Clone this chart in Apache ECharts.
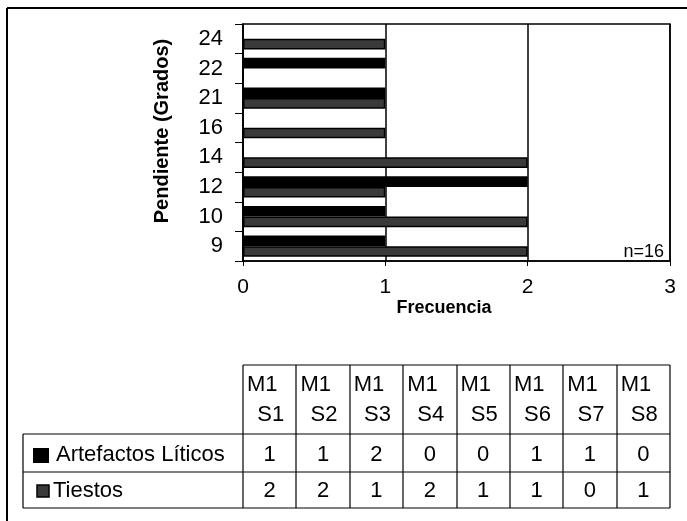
<!DOCTYPE html>
<html>
<head>
<meta charset="utf-8">
<script src="https://cdn.jsdelivr.net/npm/echarts@6/dist/echarts.min.js"></script>
<style>
  html, body { margin: 0; padding: 0; background: #fff; }
  #chart { width: 687px; height: 521px; }
</style>
</head>
<body>
<div id="chart"></div>
<script>
// Slope classes (degrees), bottom to top
const slopes = ['9', '10', '12', '14', '16', '21', '22', '24'];
// Sample units shown in the data table
const units = ['M1 S1', 'M1 S2', 'M1 S3', 'M1 S4', 'M1 S5', 'M1 S6', 'M1 S7', 'M1 S8'];
// Frequencies per series
const liticos = [1, 1, 2, 0, 0, 1, 1, 0];
const tiestos = [2, 2, 1, 2, 1, 1, 0, 1];
const seriesNames = ['Artefactos Líticos', 'Tiestos'];
const xTicks = [0, 1, 2, 3];

const FONT = "'Liberation Sans', Arial, sans-serif";
const TIESTO_FILL = '#3a3a3a';

const chart = echarts.init(document.getElementById('chart'), null, { renderer: 'canvas' });

// Data table geometry
const tbl = {
  labelLeft: 23, colLeft: 243, colRight: 670,
  headTop: 365, row1Top: 434, row2Top: 472, bottom: 508
};
const colW = (tbl.colRight - tbl.colLeft) / units.length;

const graphics = [];
const line = (x1, y1, x2, y2, w) => graphics.push({
  type: 'line', silent: true,
  shape: { x1, y1, x2, y2 },
  style: { stroke: '#000', lineWidth: w || 1.2 }
});
const text = (t, x, y, opts) => graphics.push(Object.assign({
  type: 'text', silent: true, x, y,
  style: Object.assign({
    text: t, fill: '#000', font: '22px ' + FONT,
    textAlign: 'center', textVerticalAlign: 'middle'
  }, (opts && opts.style) || {})
}, (opts && opts.el) || {}));

// Outer frame
line(7, 8, 687, 8, 2);
line(7, 8, 7, 521, 2);

// Table grid
line(tbl.colLeft, tbl.headTop, tbl.colRight, tbl.headTop);
line(tbl.labelLeft, tbl.row1Top, tbl.colRight, tbl.row1Top);
line(tbl.labelLeft, tbl.row2Top, tbl.colRight, tbl.row2Top);
line(tbl.labelLeft, tbl.bottom, tbl.colRight, tbl.bottom);
line(tbl.labelLeft, tbl.row1Top, tbl.labelLeft, tbl.bottom);
for (let i = 0; i <= units.length; i++) {
  const x = Math.round(tbl.colLeft + i * colW);
  line(x, tbl.headTop, x, tbl.bottom);
}

// Header cells and values
units.forEach((u, i) => {
  const [a, b] = u.split(' ');
  const x0 = tbl.colLeft + i * colW;
  text(a, x0 + 4, 385, { style: { textAlign: 'left' } });
  text(b, x0 + colW / 2 + 1, 415);
  text(String(liticos[i]), x0 + colW / 2, 455);
  text(String(tiestos[i]), x0 + colW / 2, 491);
});

// Legend keys inside the table
graphics.push({ type: 'rect', silent: true, shape: { x: 33, y: 448, width: 16, height: 15 }, style: { fill: '#000' } });
graphics.push({ type: 'rect', silent: true, shape: { x: 37, y: 485, width: 12, height: 12 }, style: { fill: TIESTO_FILL, stroke: '#000', lineWidth: 1.5 } });
text(seriesNames[0], 56, 455, { style: { textAlign: 'left' } });
text(seriesNames[1], 53, 491, { style: { textAlign: 'left' } });

// Axis titles and sample size
text('Pendiente (Grados)', 162, 131, {
  style: { font: 'bold 20px ' + FONT },
  el: { rotation: Math.PI / 2 }
});
text('Frecuencia', 444, 308, { style: { font: 'bold 18px ' + FONT } });
text('n=16', 664, 252, { style: { font: '18px ' + FONT, textAlign: 'right' } });

chart.setOption({
  animation: false,
  backgroundColor: '#fff',
  grid: {
    left: 243, right: 17, top: 24, bottom: 260,
    show: true, borderColor: '#000', borderWidth: 1.5, backgroundColor: 'transparent'
  },
  xAxis: {
    type: 'value', min: xTicks[0], max: xTicks[xTicks.length - 1], interval: 1,
    axisLine: { show: true, lineStyle: { color: '#000', width: 1.5 } },
    axisTick: { show: true, length: 5, lineStyle: { color: '#000' } },
    axisLabel: { color: '#000', fontSize: 21, fontFamily: FONT, margin: 16 },
    splitLine: { show: true, lineStyle: { color: '#000', width: 1.5 } }
  },
  yAxis: {
    type: 'category', data: slopes,
    axisLine: { show: true, lineStyle: { color: '#000', width: 1.5 } },
    axisTick: { show: true, length: 8, lineStyle: { color: '#000' } },
    axisLabel: { color: '#000', fontSize: 22, fontFamily: FONT, margin: 20 }
  },
  series: [
    {
      name: seriesNames[0], type: 'bar', data: liticos,
      barGap: '0%', barCategoryGap: '28%',
      itemStyle: { color: '#000' }
    },
    {
      name: seriesNames[1], type: 'bar', data: tiestos,
      barGap: '0%', barCategoryGap: '28%',
      itemStyle: { color: TIESTO_FILL, borderColor: '#000', borderWidth: 1.5 }
    }
  ],
  graphic: graphics
});
</script>
</body>
</html>
